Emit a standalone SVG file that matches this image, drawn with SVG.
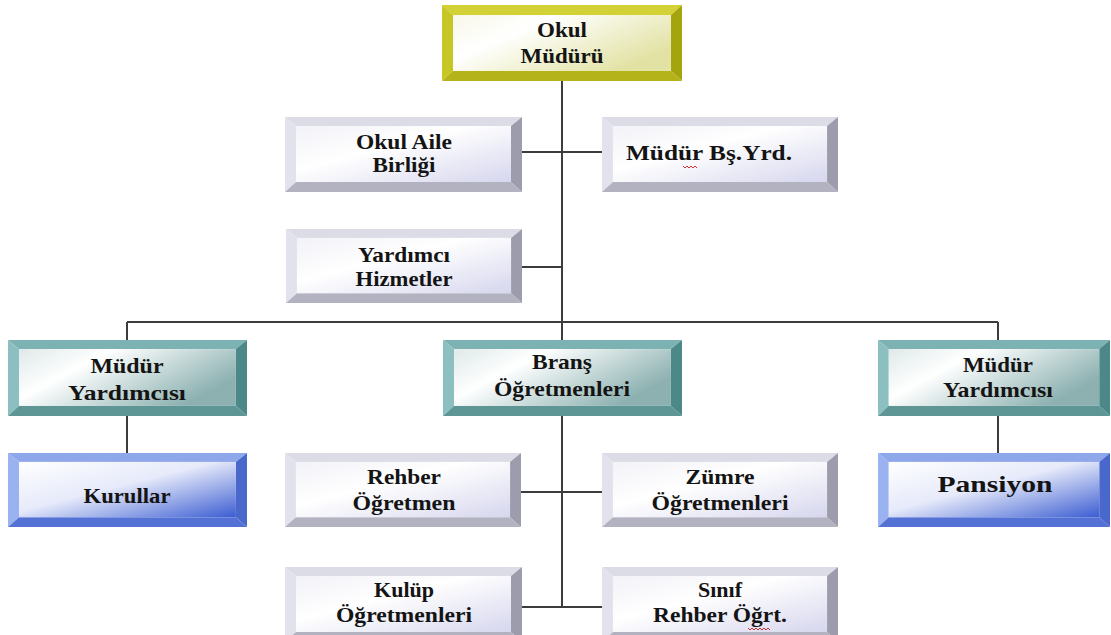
<svg xmlns="http://www.w3.org/2000/svg" xmlns:xlink="http://www.w3.org/1999/xlink" width="1111" height="635" viewBox="0 0 1111 635">
<style>
.t{font-family:"Liberation Serif","DejaVu Serif","Times New Roman",serif;font-weight:bold;font-size:22px;fill:#141414;text-anchor:middle}
.ln{stroke:#3c3c3c;stroke-width:2;fill:none}
.sq{stroke:#d03030;stroke-width:1;fill:none}
</style>
<defs>
<linearGradient id="gY" x1="0" y1="0" x2="1" y2="0.6"><stop offset="0" stop-color="#f8f8ea"/><stop offset="0.35" stop-color="#ffffff"/><stop offset="1" stop-color="#e2e2a4"/></linearGradient>
<linearGradient id="gG" x1="0" y1="0" x2="1" y2="1"><stop offset="0" stop-color="#f2f2f8"/><stop offset="0.4" stop-color="#ffffff"/><stop offset="1" stop-color="#d6d6ee"/></linearGradient>
<linearGradient id="gT" x1="0" y1="0" x2="1" y2="0.5"><stop offset="0" stop-color="#dfe9e9"/><stop offset="0.35" stop-color="#ffffff"/><stop offset="1" stop-color="#8db1b1"/></linearGradient>
<linearGradient id="gB" x1="0" y1="0" x2="1" y2="1"><stop offset="0" stop-color="#ffffff"/><stop offset="0.45" stop-color="#e6eafa"/><stop offset="1" stop-color="#3c5ed2"/></linearGradient>
<symbol id="bxY" viewBox="0 0 237 75" preserveAspectRatio="none">
<polygon points="0,0 237,0 226,10 11,10" fill="#d2d236"/><polygon points="0,0 11,10 11,65 0,75" fill="#c6c626"/><polygon points="237,0 237,75 226,65 226,10" fill="#a4a40e"/><polygon points="0,75 11,65 226,65 237,75" fill="#b4b41a"/><rect x="11" y="10" width="215" height="55" fill="url(#gY)"/>
</symbol>
<symbol id="bxG" viewBox="0 0 237 75" preserveAspectRatio="none">
<polygon points="0,0 237,0 226,9 11,9" fill="#dcdce6"/><polygon points="0,0 11,9 11,65 0,75" fill="#e2e2ec"/><polygon points="237,0 237,75 226,65 226,9" fill="#9c9cac"/><polygon points="0,75 11,65 226,65 237,75" fill="#b2b2c0"/><rect x="11" y="9" width="215" height="56" fill="url(#gG)"/>
</symbol>
<symbol id="bxT" viewBox="0 0 237 75" preserveAspectRatio="none">
<polygon points="0,0 237,0 226,9 11,9" fill="#7db2b2"/><polygon points="0,0 11,9 11,65 0,75" fill="#8cc0c0"/><polygon points="237,0 237,75 226,65 226,9" fill="#4c8888"/><polygon points="0,75 11,65 226,65 237,75" fill="#5e9696"/><rect x="11" y="9" width="215" height="56" fill="url(#gT)"/>
</symbol>
<symbol id="bxB" viewBox="0 0 237 75" preserveAspectRatio="none">
<polygon points="0,0 237,0 226,9 11,9" fill="#8ea6ea"/><polygon points="0,0 11,9 11,65 0,75" fill="#9ab2f0"/><polygon points="237,0 237,75 226,65 226,9" fill="#4a68cc"/><polygon points="0,75 11,65 226,65 237,75" fill="#5472d6"/><rect x="11" y="9" width="215" height="56" fill="url(#gB)"/>
</symbol>
</defs>
<rect width="1111" height="635" fill="#ffffff"/>
<g id="connectors">
<path class="ln" d="M562,81 V340 M522,152 H602 M522,267 H562 M127,322 H998 M127,322 V340 M127,416 V453 M998,322 V340 M998,416 V453 M562,416 V607 M521,492 H602 M522,607 H602"/>
</g>
<g id="okul-muduru"><use xlink:href="#bxY" x="442" y="5" width="240" height="76"/><text class="t" x="562" y="37" textLength="50" lengthAdjust="spacingAndGlyphs">Okul</text><text class="t" x="562" y="63" textLength="83" lengthAdjust="spacingAndGlyphs">Müdürü</text></g>
<g id="okul-aile-birligi"><use xlink:href="#bxG" x="285" y="117" width="237" height="75"/><text class="t" x="404" y="149" textLength="96" lengthAdjust="spacingAndGlyphs">Okul Aile</text><text class="t" x="404" y="172" textLength="63" lengthAdjust="spacingAndGlyphs">Birliği</text></g>
<g id="mudur-bs-yrd"><use xlink:href="#bxG" x="602" y="117" width="236" height="75"/><text class="t" x="709" y="160" textLength="166" lengthAdjust="spacingAndGlyphs">Müdür Bş.Yrd.</text><path class="sq" d="M683,166 l2,2 l2,-2 l2,2 l2,-2 l2,2 l2,-2 l2,2"/></g>
<g id="yardimci-hizmetler"><use xlink:href="#bxG" x="286" y="229" width="236" height="74"/><text class="t" x="404" y="262" textLength="92" lengthAdjust="spacingAndGlyphs">Yardımcı</text><text class="t" x="404" y="286" textLength="97" lengthAdjust="spacingAndGlyphs">Hizmetler</text></g>
<g id="mudur-yardimcisi-1"><use xlink:href="#bxT" x="8" y="340" width="239" height="76"/><text class="t" x="127" y="373" textLength="73" lengthAdjust="spacingAndGlyphs">Müdür</text><text class="t" x="127" y="400" textLength="118" lengthAdjust="spacingAndGlyphs">Yardımcısı</text></g>
<g id="brans-ogretmenleri"><use xlink:href="#bxT" x="443" y="340" width="239" height="76"/><text class="t" x="562" y="369" textLength="60" lengthAdjust="spacingAndGlyphs">Branş</text><text class="t" x="562" y="396" textLength="136" lengthAdjust="spacingAndGlyphs">Öğretmenleri</text></g>
<g id="mudur-yardimcisi-2"><use xlink:href="#bxT" x="878" y="340" width="232" height="76"/><text class="t" x="998" y="372" textLength="70" lengthAdjust="spacingAndGlyphs">Müdür</text><text class="t" x="998" y="397" textLength="110" lengthAdjust="spacingAndGlyphs">Yardımcısı</text></g>
<g id="kurullar"><use xlink:href="#bxB" x="8" y="453" width="239" height="74"/><text class="t" x="127" y="503" textLength="87" lengthAdjust="spacingAndGlyphs">Kurullar</text></g>
<g id="pansiyon"><use xlink:href="#bxB" x="878" y="453" width="232" height="74"/><text class="t" x="995" y="492" style="font-size:24px" textLength="115" lengthAdjust="spacingAndGlyphs">Pansiyon</text></g>
<g id="rehber-ogretmen"><use xlink:href="#bxG" x="285" y="453" width="236" height="74"/><text class="t" x="404" y="484" textLength="74" lengthAdjust="spacingAndGlyphs">Rehber</text><text class="t" x="404" y="510" textLength="103" lengthAdjust="spacingAndGlyphs">Öğretmen</text></g>
<g id="zumre-ogretmenleri"><use xlink:href="#bxG" x="602" y="453" width="236" height="74"/><text class="t" x="720" y="484" textLength="69" lengthAdjust="spacingAndGlyphs">Zümre</text><text class="t" x="720" y="510" textLength="137" lengthAdjust="spacingAndGlyphs">Öğretmenleri</text></g>
<g id="kulup-ogretmenleri"><use xlink:href="#bxG" x="285" y="567" width="237" height="75"/><text class="t" x="404" y="597" textLength="60" lengthAdjust="spacingAndGlyphs">Kulüp</text><text class="t" x="404" y="622" textLength="136" lengthAdjust="spacingAndGlyphs">Öğretmenleri</text></g>
<g id="sinif-rehber-ogrt"><use xlink:href="#bxG" x="602" y="567" width="236" height="75"/><text class="t" x="720" y="597">Sınıf</text><text class="t" x="720" y="622" textLength="134" lengthAdjust="spacingAndGlyphs">Rehber Öğrt.</text><path class="sq" d="M748,628 l2,2 l2,-2 l2,2 l2,-2 l2,2 l2,-2 l2,2 l2,-2 l2,2 l2,-2 l2,2"/></g>
</svg>
